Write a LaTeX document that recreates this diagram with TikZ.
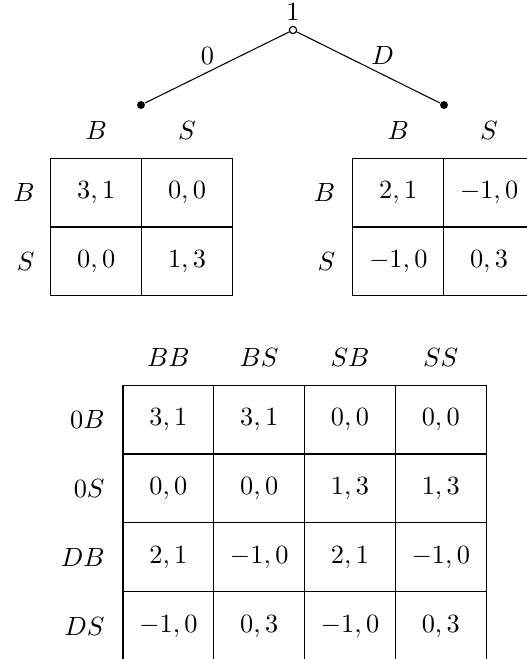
\documentclass[tikz,border=0pt]{standalone}
\usepackage{amsmath,amssymb}
\usetikzlibrary{positioning}
\tikzset{
  cell/.style={draw,outer sep=0pt,inner sep=0pt,minimum width=34.5pt,minimum height=26.2pt},
  strat/.style={inner sep=0pt},
  dot/.style={circle,fill,inner sep=0pt,minimum size=3pt},
  odot/.style={circle,draw,fill=white,inner sep=0pt,minimum size=2.7pt},
}

\begin{document}
\begin{tikzpicture}[x=0.38pt,y=-0.38pt]
  \useasboundingbox (0,0) rectangle (527,659);
  % tree for player 1
  \node[dot] (lleaf) at (141,105) {};
  \node[dot] (rleaf) at (444,105) {};
  \node[odot] (root) at (293,30) {};
  \node[strat,above=1.8pt of root] (rootlbl) {$1$};
  \draw (root) -- node[above left,inner sep=1pt] (lab0) {$0$} (lleaf);
  \draw (root) -- node[above right,inner sep=1pt] (labD) {$D$} (rleaf);
  \node[odot] at (root) {};

  % subgame after 0
  \node[cell] (l11) at (96.25,192.5) {$3,1$};
  \node[cell,right=0pt of l11] (l12) {$0,0$};
  \node[cell,below=0pt of l11] (l21) {$0,0$};
  \node[cell,right=0pt of l21] (l22) {$1,3$};
  \node[strat,above=7pt of l11] (lcB) {$B$};
  \node[strat,above=7pt of l12] (lcS) {$S$};
  \node[strat,left=6pt of l11] (lrB) {$B$};
  \node[strat,left=6pt of l21] (lrS) {$S$};

  % subgame after D
  \node[cell] (r11) at (398.25,192.5) {$2,1$};
  \node[cell,right=0pt of r11] (r12) {$-1,0$};
  \node[cell,below=0pt of r11] (r21) {$-1,0$};
  \node[cell,right=0pt of r21] (r22) {$0,3$};
  \node[strat,above=7pt of r11] (rcB) {$B$};
  \node[strat,above=7pt of r12] (rcS) {$S$};
  \node[strat,left=6.5pt of r11] (rrB) {$B$};
  \node[strat,left=6.5pt of r21] (rrS) {$S$};

  % strategic form
  \node[cell] (s11) at (168.4,419.5) {$3,1$};
  \node[cell,right=0pt of s11] (s12) {$3,1$};
  \node[cell,right=0pt of s12] (s13) {$0,0$};
  \node[cell,right=0pt of s13] (s14) {$0,0$};
  \node[cell,below=0pt of s11] (s21) {$0,0$};
  \node[cell,right=0pt of s21] (s22) {$0,0$};
  \node[cell,right=0pt of s22] (s23) {$1,3$};
  \node[cell,right=0pt of s23] (s24) {$1,3$};
  \node[cell,below=0pt of s21] (s31) {$2,1$};
  \node[cell,right=0pt of s31] (s32) {$-1,0$};
  \node[cell,right=0pt of s32] (s33) {$2,1$};
  \node[cell,right=0pt of s33] (s34) {$-1,0$};
  \node[cell,below=0pt of s31] (s41) {$-1,0$};
  \node[cell,right=0pt of s41] (s42) {$0,3$};
  \node[cell,right=0pt of s42] (s43) {$-1,0$};
  \node[cell,right=0pt of s43] (s44) {$0,3$};
  \node[strat,above=7pt of s11] (sBB) {$BB$};
  \node[strat,above=7pt of s12] (sBS) {$BS$};
  \node[strat,above=7pt of s13] (sSB) {$SB$};
  \node[strat,above=7pt of s14] (sSS) {$SS$};
  \node[strat,left=6.8pt of s11] (s0B) {$0B$};
  \node[strat,left=6.8pt of s21] (s0S) {$0S$};
  \node[strat,left=6.8pt of s31] (sDB) {$DB$};
  \node[strat,left=6.8pt of s41] (sDS) {$DS$};
\end{tikzpicture}
\end{document}
